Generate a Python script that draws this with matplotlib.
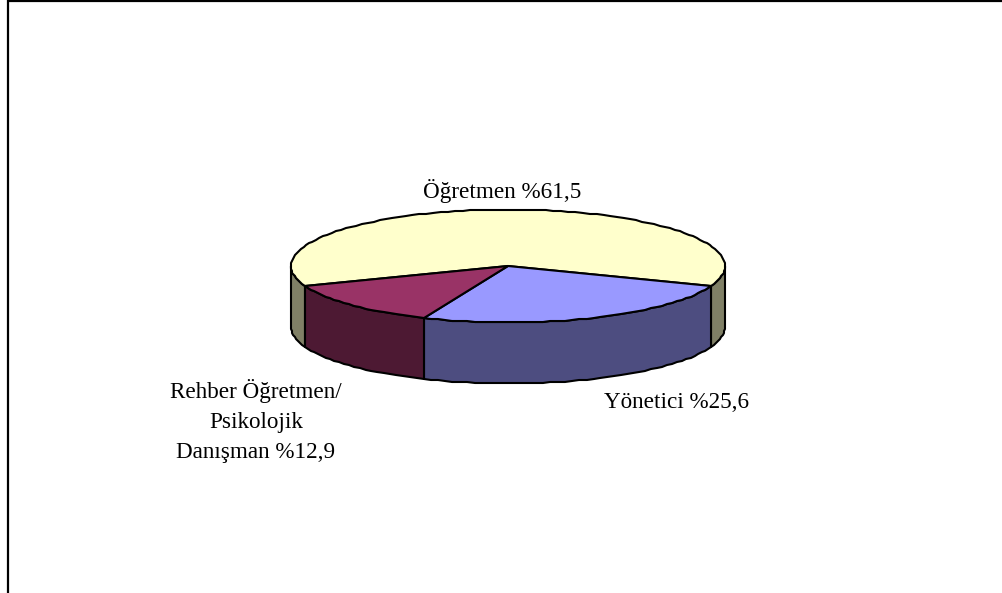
import numpy as np
import matplotlib
matplotlib.use('Agg')
import matplotlib.pyplot as plt
from matplotlib.patches import Polygon

# Dilim verileri
kategoriler = ['Öğretmen', 'Yönetici', 'Rehber Öğretmen/\nPsikolojik\nDanışman']
yuzdeler = [61.5, 25.6, 12.9]
etiketler = ['Öğretmen %61,5', 'Yönetici %25,6', 'Rehber Öğretmen/\nPsikolojik\nDanışman %12,9']

ust_renkler = ['#FFFFCC', '#9999FF', '#993366']
yan_renkler = ['#808066', '#4D4D80', '#4D1933']
etiket_yer = [(501.7, 198), (676.5, 408), (256, 458)]

# Pasta geometrisi (piksel)
CX, CY = 508, 266
RX, RY = 217, 56.5
DERINLIK = 61
BASLANGIC = 200.7  # ilk dilimin başladığı açı, saat yönünde gidiyor

plt.rcParams['font.family'] = ['Liberation Serif', 'DejaVu Serif']

fig = plt.figure(figsize=(10.02, 5.93), dpi=100)
ax = fig.add_axes([0, 0, 1, 1])
ax.set_xlim(0, 1002)
ax.set_ylim(593, 0)
ax.axis('off')

# Çerçeve: sadece üst ve sol kenar görünüyor
ax.plot([8.5, 8.5, 1002], [593, 1, 1], color='black', lw=1.6, solid_joinstyle='miter')


def yay(a1, a2, dy=0):
    # referanstaki kenarlar hafif tırtıklı, tam piksele yuvarlıyoruz
    n = max(int(abs(a2 - a1) / 2), 2)
    t = np.radians(np.linspace(a1, a2, n + 1))
    return np.round(np.column_stack([CX + RX * np.cos(t), CY - RY * np.sin(t) + dy]))


def yan_yuz(a1, a2, renk):
    ust = yay(a1, a2)
    alt = yay(a2, a1, DERINLIK)
    ax.add_patch(Polygon(np.vstack([ust, alt]), closed=True, fc=renk, ec='black',
                         lw=1.5, joinstyle='round', zorder=2))


# Dilim açıları yüzdelerden
sinirlar = BASLANGIC - np.cumsum([0] + yuzdeler) * 3.6

for i in range(len(yuzdeler)):
    a1, a2 = sinirlar[i], sinirlar[i + 1]
    # sadece ön yarıdaki (180-360) yan yüzler görünür
    for k in range(-1, 1):
        alt_s = 180 + 360 * k
        ust_s = 360 + 360 * k
        b1, b2 = min(a1, ust_s), max(a2, alt_s)
        if b1 > b2:
            yan_yuz(b1, b2, yan_renkler[i])

for i in range(len(yuzdeler)):
    kenar = yay(sinirlar[i], sinirlar[i + 1])
    ax.add_patch(Polygon(np.vstack([[CX, CY], kenar]), closed=True, fc=ust_renkler[i],
                         ec='black', lw=1.5, joinstyle='round', zorder=3))

for etiket, (x, y) in zip(etiketler, etiket_yer):
    ax.text(x, y, etiket, ha='center', va='baseline', fontsize=16.7, color='black',
            linespacing=1.56, zorder=4)

fig.savefig('out.png', dpi=100)
